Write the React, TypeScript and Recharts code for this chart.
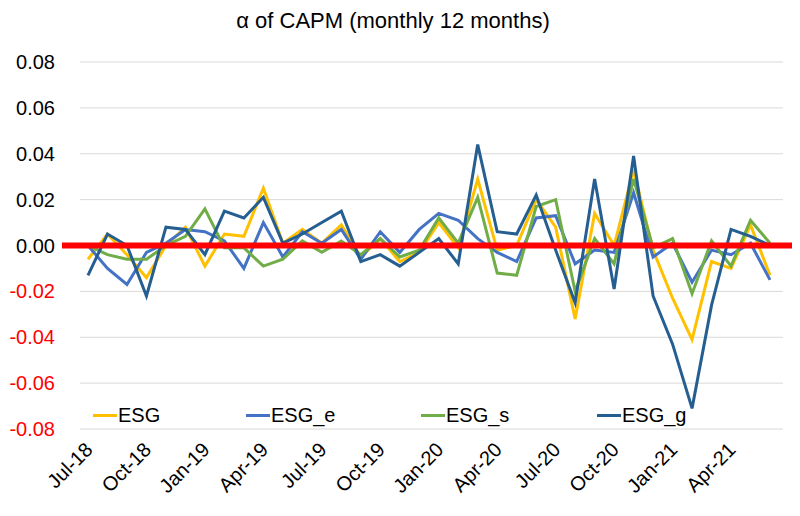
import { LineChart, Line, XAxis, YAxis, CartesianGrid, Legend, ReferenceLine } from "recharts";

const months = [
  "Jul-18", "Aug-18", "Sep-18", "Oct-18", "Nov-18", "Dec-18",
  "Jan-19", "Feb-19", "Mar-19", "Apr-19", "May-19", "Jun-19",
  "Jul-19", "Aug-19", "Sep-19", "Oct-19", "Nov-19", "Dec-19",
  "Jan-20", "Feb-20", "Mar-20", "Apr-20", "May-20", "Jun-20",
  "Jul-20", "Aug-20", "Sep-20", "Oct-20", "Nov-20", "Dec-20",
  "Jan-21", "Feb-21", "Mar-21", "Apr-21", "May-21", "Jun-21",
];

const esg = [
  -0.006, 0.005, -0.004, -0.014, 0.0, 0.008, -0.009, 0.005, 0.004, 0.025, 0.001, 0.007,
  0.001, 0.009, -0.005, 0.003, -0.007, -0.003, 0.01, -0.001, 0.029, -0.002, 0.0, 0.02,
  0.008, -0.032, 0.014, 0.0, 0.033, -0.002, -0.023, -0.041, -0.007, -0.01, 0.009, -0.013,
];

const esgE = [
  0.0, -0.01, -0.017, -0.003, 0.001, 0.007, 0.006, 0.002, -0.01, 0.01, -0.005, 0.006,
  0.001, 0.007, -0.006, 0.006, -0.003, 0.007, 0.014, 0.011, 0.003, -0.003, -0.007, 0.012,
  0.013, -0.008, -0.002, -0.003, 0.023, -0.005, 0.001, -0.016, -0.002, -0.004, 0.001, -0.015,
];

const esgS = [
  0.0, -0.004, -0.006, -0.006, 0.0, 0.004, 0.016, -0.001, -0.001, -0.009, -0.006, 0.002,
  -0.003, 0.002, -0.004, 0.003, -0.005, -0.002, 0.012, 0.001, 0.021, -0.012, -0.013, 0.017,
  0.02, -0.02, 0.003, -0.008, 0.029, -0.001, 0.003, -0.021, 0.002, -0.009, 0.011, 0.001,
];

const esgG = [
  -0.013, 0.005, 0.0, -0.022, 0.008, 0.007, -0.004, 0.015, 0.012, 0.021, 0.001, 0.005,
  0.01, 0.015, -0.007, -0.004, -0.009, -0.003, 0.003, -0.008, 0.044, 0.006, 0.005, 0.022,
  -0.002, -0.025, 0.029, -0.019, 0.039, -0.022, -0.043, -0.071, -0.026, 0.007, 0.004, 0.0,
];

const seriesNames = ["ESG", "ESG_e", "ESG_s", "ESG_g"];
const yTicks = [-0.08, -0.06, -0.04, -0.02, 0, 0.02, 0.04, 0.06, 0.08];

const data = months.map((m, i) => ({
  month: m,
  ESG: esg[i],
  ESG_e: esgE[i],
  ESG_s: esgS[i],
  ESG_g: esgG[i],
}));

const font = "'Liberation Sans', Arial, sans-serif";

function YTick({ x, y, payload }: any) {
  const v = payload.value as number;
  return (
    <text x={x} y={y} dy={7} textAnchor="end" fontSize={20} fontFamily={font} fill={v < 0 ? "#FF0000" : "#000"}>
      {v.toFixed(2)}
    </text>
  );
}

function XTick({ x, y, payload }: any) {
  const ax = x + 1;
  const ay = y + 17;
  return (
    <text
      x={ax}
      y={ay}
      dy="0.35em"
      textAnchor="end"
      fontSize={20}
      fontFamily={font}
      fill="#000"
      transform={`rotate(-45, ${ax}, ${ay})`}
    >
      {payload.value}
    </text>
  );
}

function ZeroLine(props: any) {
  const { x1, x2, y1 } = props;
  return <line x1={x1 - 18} x2={x2 + 17} y1={y1} y2={y1} stroke="#FF0000" strokeWidth={6} />;
}

const legendLeft = [93, 246, 421, 597];

function LegendBox({ payload }: any) {
  const items = [...(payload || [])].sort(
    (a: any, b: any) => seriesNames.indexOf(a.value) - seriesNames.indexOf(b.value)
  );
  return (
    <div style={{ position: "relative", height: 0, overflow: "visible", fontFamily: font, fontSize: 20 }}>
      {items.map((p: any, i: number) => (
        <div
          key={p.value}
          style={{ position: "absolute", left: legendLeft[i], top: 0, display: "flex", alignItems: "center", lineHeight: "24px" }}
        >
          <span style={{ display: "inline-block", width: 24, height: 3, background: p.color }} />
          <span style={{ marginLeft: 1, color: "#000" }}>{p.value}</span>
        </div>
      ))}
    </div>
  );
}

export default function App() {
  return (
    <div style={{ position: "relative", width: 800, height: 516, background: "#fff", margin: -8 }}>
      <div
        style={{
          position: "absolute",
          top: 8,
          left: 0,
          width: 786,
          textAlign: "center",
          fontFamily: font,
          fontSize: 22,
          color: "#000",
        }}
      >
        α of CAPM (monthly 12 months)
      </div>
      <LineChart width={800} height={516} data={data} margin={{ top: 62, right: 17, left: 0, bottom: 0 }}>
        <CartesianGrid vertical={false} stroke="#d9d9d9" strokeWidth={1} />
        <XAxis
          dataKey="month"
          interval={2}
          axisLine={false}
          tickLine={false}
          tickSize={0}
          tickMargin={0}
          height={87}
          padding={{ left: 8, right: 13 }}
          tick={<XTick />}
        />
        <YAxis
          domain={[-0.08, 0.08]}
          ticks={yTicks}
          width={80}
          axisLine={false}
          tickLine={false}
          tickSize={0}
          tickMargin={25}
          tick={<YTick />}
        />
        <Legend verticalAlign="top" wrapperStyle={{ top: 403, left: 0, width: 800, height: 0 }} content={<LegendBox />} />
        <Line dataKey="ESG" stroke="#FFC000" strokeWidth={3} dot={false} isAnimationActive={false} />
        <Line dataKey="ESG_e" stroke="#4472C4" strokeWidth={3} dot={false} isAnimationActive={false} />
        <Line dataKey="ESG_s" stroke="#70AD47" strokeWidth={3} dot={false} isAnimationActive={false} />
        <Line dataKey="ESG_g" stroke="#255E91" strokeWidth={3} dot={false} isAnimationActive={false} />
        <ReferenceLine y={0} shape={<ZeroLine />} />
      </LineChart>
    </div>
  );
}
